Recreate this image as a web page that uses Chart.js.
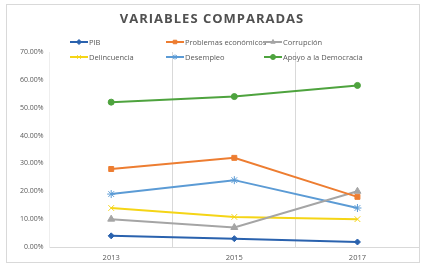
<!DOCTYPE html>
<html>
<head>
<meta charset="utf-8">
<script src="https://cdn.jsdelivr.net/npm/chart.js@4/dist/chart.umd.min.js"></script>
<style>
  body { margin: 0; background: #fff; }
  #wrap { position: relative; width: 426px; height: 272px; }
</style>
</head>
<body>
<div id="wrap"><canvas id="varChart" width="426" height="272"></canvas></div>
<script>
const years = ['2013', '2015', '2017'];
const pib = [4, 3, 1.8];
const problemas = [28, 32, 18];
const corrupcion = [10, 7, 20];
const delincuencia = [14, 10.8, 10];
const desempleo = [19, 24, 14];
const apoyo = [52, 54, 58];
const yTicks = [0, 10, 20, 30, 40, 50, 60, 70];

const series = [
  { label: 'PIB', data: pib, color: '#2A62AE', style: 'rectRot', r: 3 },
  { label: 'Problemas económicos', data: problemas, color: '#ED7D31', style: 'rect', r: 3.5 },
  { label: 'Corrupción', data: corrupcion, color: '#A5A5A5', style: 'triangle', r: 4 },
  { label: 'Delincuencia', data: delincuencia, color: '#F5D516', style: 'crossRot', r: 4 },
  { label: 'Desempleo', data: desempleo, color: '#5B9BD5', style: 'star', r: 4 },
  { label: 'Apoyo a la Democracia', data: apoyo, color: '#4EA33E', style: 'circle', r: 3 },
];

// frame, title and two-row legend drawn by hand
const decorPlugin = {
  id: 'decor',
  beforeDraw(chart) {
    const ctx = chart.ctx;
    ctx.save();
    ctx.fillStyle = '#fff';
    ctx.fillRect(0, 0, 426, 272);
    ctx.strokeStyle = '#D9D9D9';
    ctx.lineWidth = 1;
    ctx.strokeRect(6.5, 4.5, 413, 258);
    ctx.restore();
  },
  afterDraw(chart) {
    const ctx = chart.ctx;
    ctx.save();
    ctx.fillStyle = '#505050';
    ctx.font = 'bold 13px "Open Sans"';
    ctx.letterSpacing = '1px';
    ctx.textAlign = 'center';
    ctx.textBaseline = 'middle';
    ctx.fillText('VARIABLES COMPARADAS', 212, 19);
    ctx.letterSpacing = '0px';

    const cols = [70, 166, 264];
    const rows = [42, 57];
    ctx.font = '7.5px "Open Sans"';
    ctx.textAlign = 'left';
    series.forEach((s, i) => {
      const x = cols[i % 3];
      const y = rows[Math.floor(i / 3)];
      ctx.strokeStyle = s.color;
      ctx.lineWidth = 2;
      ctx.beginPath();
      ctx.moveTo(x, y);
      ctx.lineTo(x + 18, y);
      ctx.stroke();
      ctx.fillStyle = s.color;
      ctx.lineWidth = 1;
      Chart.helpers.drawPoint(ctx, { pointStyle: s.style, radius: 2.5, rotation: 0, borderWidth: 1 }, x + 9, y);
      ctx.fillStyle = '#595959';
      ctx.fillText(s.label, x + 19, y + 0.5);
    });
    ctx.restore();
  }
};

new Chart(document.getElementById('varChart'), {
  type: 'line',
  data: {
    labels: years,
    datasets: series.map(s => ({
      label: s.label,
      data: s.data,
      borderColor: s.color,
      backgroundColor: s.color,
      borderWidth: 2,
      pointStyle: s.style,
      pointRadius: s.r,
      pointBorderWidth: 1,
      tension: 0,
    })),
  },
  options: {
    responsive: false,
    animation: false,
    layout: { padding: { top: 52, left: 14, right: 7, bottom: 4 } },
    plugins: { legend: { display: false }, title: { display: false }, tooltip: { enabled: false } },
    scales: {
      x: {
        offset: true,
        grid: { offset: true, color: '#D9D9D9', drawTicks: false },
        border: { color: '#D9D9D9' },
        ticks: { color: '#595959', font: { size: 7.5, family: 'Open Sans' }, padding: 6 },
      },
      y: {
        min: 0,
        max: 70,
        afterBuildTicks: axis => { axis.ticks = yTicks.map(v => ({ value: v })); },
        grid: { display: false, drawTicks: false },
        border: { color: '#EEEEEE' },
        ticks: {
          color: '#595959',
          font: { size: 7, family: 'Open Sans' },
          padding: 6,
          callback: v => v.toFixed(2) + '%',
        },
      },
    },
  },
  plugins: [decorPlugin],
});
</script>
</body>
</html>
